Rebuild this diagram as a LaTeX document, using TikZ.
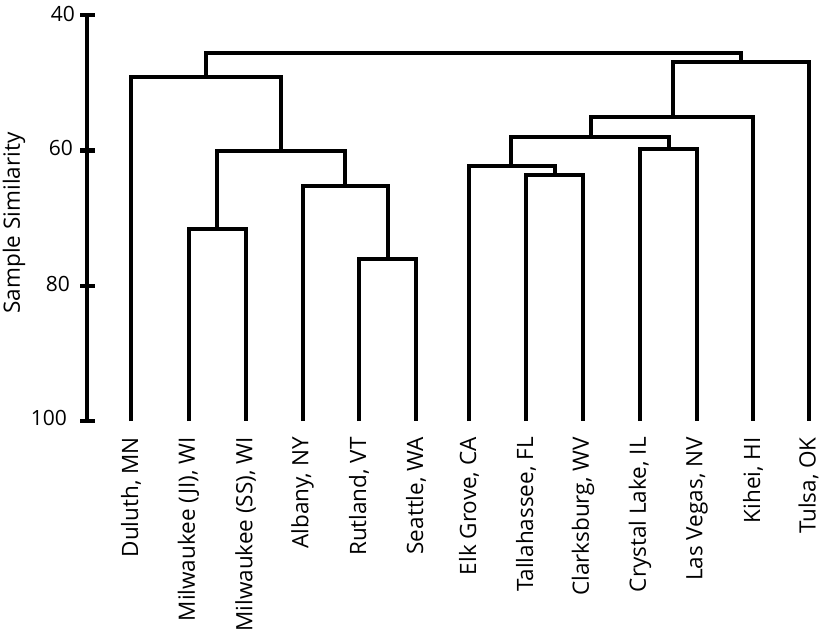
\documentclass[tikz,border=0pt]{standalone}
\usepackage{fontspec}
\setmainfont{Open Sans}
\begin{document}
\begin{tikzpicture}[x=1pt,y=-1pt,
  link/.style={line width=4pt},
  leaflab/.style={rotate=90,anchor=east,font=\fontsize{22.5}{22.5}\selectfont,inner sep=0pt},
  ticklab/.style={anchor=east,font=\fontsize{21}{21}\selectfont,inner sep=0pt},
  axtitle/.style={rotate=90,font=\fontsize{22.5}{22.5}\selectfont,inner sep=0pt}]
\useasboundingbox (0,0) rectangle (824,632);
% axis
\coordinate (ax40) at (87,15);
\coordinate (ax100) at (87,421);
\draw[line width=4.5pt] (ax40) -- (ax100);
\foreach \v/\y/\lx/\ly in {40/15/75/14,60/150.5/73/148,80/286/70/284,100/421/67/418}{
  \draw[line width=4.5pt] (80,\y) -- (95,\y);
  \node[ticklab] (t\v) at (\lx,\ly) {\v};
}
\node[axtitle] (title) at (14,223) {Sample Similarity};
% leaves
\foreach \n/\x/\lab in {1/131/{Duluth, MN},2/188.5/{Milwaukee (JI), WI},3/245.5/{Milwaukee (SS), WI},
  4/302.5/{Albany, NY},5/359/{Rutland, VT},6/416/{Seattle, WA},7/469/{Elk Grove, CA},
  8/526/{Tallahassee, FL},9/583/{Clarksburg, WV},10/640/{Crystal Lake, IL},11/697/{Las Vegas, NV},
  12/753/{Kihei, HI},13/808.5/{Tulsa, OK}}{
  \coordinate (L\n) at (\x,421);
  \node[leaflab] (lab\n) at (\x,437) {\lab};
}
% merge points
\coordinate (m1) at (217,229);
\coordinate (m2) at (388,258.5);
\coordinate (m3) at (345,186);
\coordinate (m4) at (281,150.5);
\coordinate (m5) at (206,76.5);
\coordinate (r1) at (554.5,174.5);
\coordinate (r2) at (511,166);
\coordinate (r3) at (669,148.5);
\coordinate (r4) at (591,136.5);
\coordinate (r5) at (672.5,117.3);
\coordinate (r6) at (741,61.5);
\coordinate (top) at (474,53.3);
\begin{scope}[link]
\draw (L2) |- (m1) -| (L3);
\draw (L5) |- (m2) -| (L6);
\draw (L4) |- (m3) -| (m2);
\draw (m1) |- (m4) -| (m3);
\draw (L1) |- (m5) -| (m4);
\draw (L8) |- (r1) -| (L9);
\draw (L7) |- (r2) -| (r1);
\draw (L10) |- (r3) -| (L11);
\draw (r2) |- (r4) -| (r3);
\draw (r4) |- (r5) -| (L12);
\draw (r5) |- (r6) -| (L13);
\draw (m5) |- (top) -| (r6);
\end{scope}
\end{tikzpicture}
\end{document}
